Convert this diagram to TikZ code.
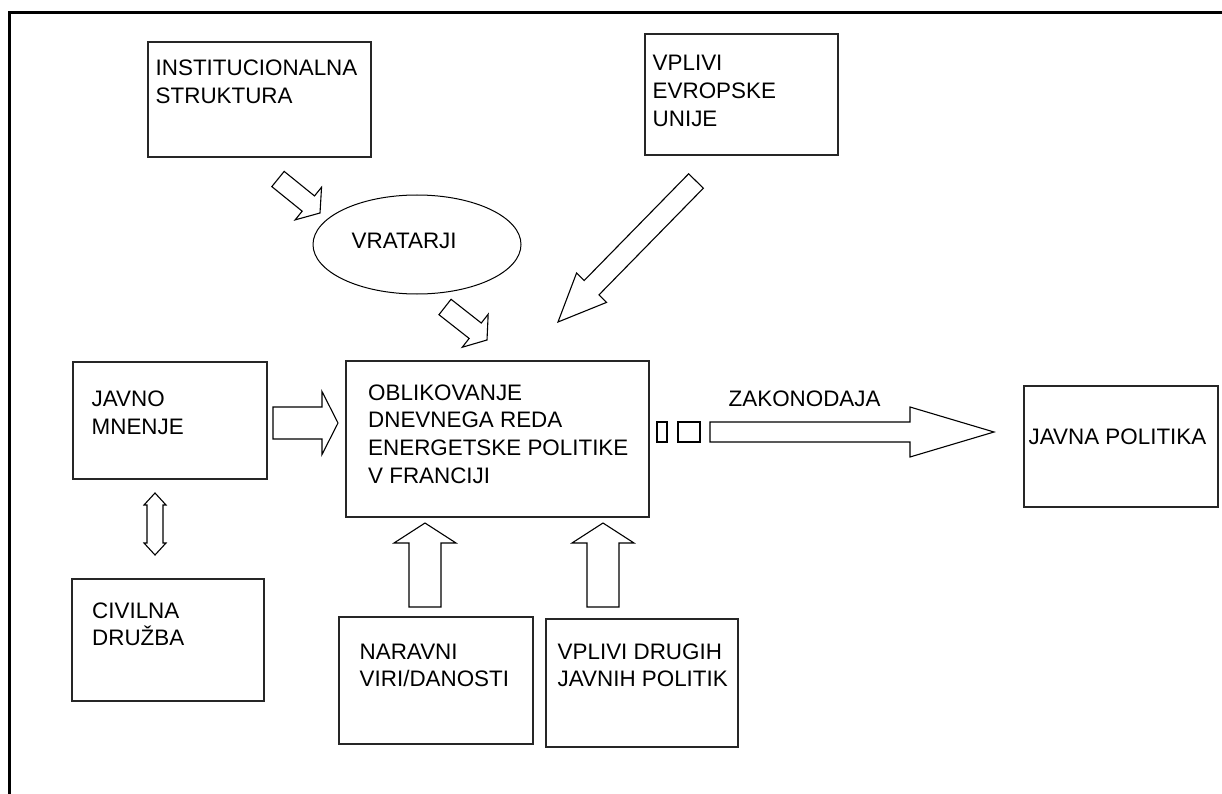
\documentclass[tikz,border=0pt]{standalone}
\usepackage{fontspec}
\setmainfont{Liberation Sans}
\usetikzlibrary{calc,shapes.geometric}
\tikzset{
  box/.style={draw=black!85, line width=1.4pt, rectangle, inner sep=0pt},
  txt/.style={inner sep=0pt, anchor=base west, font=\fontsize{22.4}{27.8}\selectfont},
  arrowline/.style={draw=black, line width=1.1pt, line join=miter, fill=white},
  frameline/.style={draw=black, line width=2.5pt},
}
% block arrow: tail, tip, shaft half width, head half width, head length
\newcommand\blockarr[5]{%
  \path ($(#2)!#5!(#1)$) coordinate (bh);
  \draw[arrowline] ($(#1)!#3!90:(#2)$) -- ($(bh)!#3!90:(#2)$) -- ($(bh)!#4!90:(#2)$) -- (#2)
    -- ($(bh)!#4!-90:(#2)$) -- ($(bh)!#3!-90:(#2)$) -- ($(#1)!#3!-90:(#2)$) -- cycle;}
% double block arrow: end A, end B, shaft half width, head half width, head length
\newcommand\dblarr[5]{%
  \path ($(#1)!#5!(#2)$) coordinate (ha) ($(#2)!#5!(#1)$) coordinate (hb);
  \draw[arrowline] (#1) -- ($(ha)!#4!90:(#2)$) -- ($(ha)!#3!90:(#2)$) -- ($(hb)!#3!-90:(#1)$)
    -- ($(hb)!#4!-90:(#1)$) -- (#2) -- ($(hb)!#4!90:(#1)$) -- ($(hb)!#3!90:(#1)$)
    -- ($(ha)!#3!-90:(#2)$) -- ($(ha)!#4!-90:(#2)$) -- cycle;}
\begin{document}
\begin{tikzpicture}[x=1pt,y=-1pt]
\useasboundingbox (0,0) rectangle (1222,794);
\fill[white] (0,0) rectangle (1222,794);
\draw[frameline] (9.5,794) -- (9.5,12.7) -- (1222,12.7);

% boxes
\node[box, minimum width=223pt, minimum height=115pt] (inst) at (259.5,99.5) {};
\node[box, minimum width=193pt, minimum height=121pt] (eu) at (741.5,94.5) {};
\node[box, minimum width=303pt, minimum height=156pt] (main) at (497.5,439) {};
\node[box, minimum width=194pt, minimum height=117pt] (javno) at (170,420.5) {};
\node[box, minimum width=192pt, minimum height=122pt] (civil) at (168,640) {};
\node[box, minimum width=194pt, minimum height=127pt] (nar) at (436,680.5) {};
\node[box, minimum width=192pt, minimum height=128pt] (drug) at (642,683) {};
\node[box, minimum width=194pt, minimum height=121pt] (jp) at (1121,446.5) {};
\node[draw=black, line width=1pt, ellipse, inner sep=0pt, minimum width=208pt, minimum height=99pt] (vrat) at (417,244.5) {};
\node[draw=black, line width=1.1pt, inner sep=0pt, minimum width=10pt, minimum height=20pt] (sq1) at (662,432) {};
\node[draw=black, line width=1.1pt, inner sep=0pt, minimum width=22pt, minimum height=20pt] (sq2) at (689,432) {};

% texts
\node[txt] (tinst) at (155.5,76) {\begin{tabular}[t]{@{}l@{}}INSTITUCIONALNA\\STRUKTURA\end{tabular}};
\node[txt] (teu) at (652.5,71) {\begin{tabular}[t]{@{}l@{}}VPLIVI\\EVROPSKE\\UNIJE\end{tabular}};
\node[txt] (tvrat) at (351.5,248.5) {VRATARJI};
\node[txt] (tmain) at (368,400) {\begin{tabular}[t]{@{}l@{}}OBLIKOVANJE\\DNEVNEGA REDA\\ENERGETSKE POLITIKE\\V FRANCIJI\end{tabular}};
\node[txt] (tjavno) at (91.5,406.5) {\begin{tabular}[t]{@{}l@{}}JAVNO\\MNENJE\end{tabular}};
\node[txt] (tcivil) at (92,618) {\begin{tabular}[t]{@{}l@{}}CIVILNA\\DRUŽBA\end{tabular}};
\node[txt] (tnar) at (359.5,659) {\begin{tabular}[t]{@{}l@{}}NARAVNI\\VIRI/DANOSTI\end{tabular}};
\node[txt] (tdrug) at (557.5,659) {\begin{tabular}[t]{@{}l@{}}VPLIVI DRUGIH\\JAVNIH POLITIK\end{tabular}};
\node[txt] (tzak) at (728.5,406.7) {ZAKONODAJA};
\node[txt] (tjp) at (1028.5,444) {JAVNA POLITIKA};

% arrow end points
\coordinate (aT) at (278,179);   \coordinate (aH) at (320,213);
\coordinate (bT) at (445,307);   \coordinate (bH) at (487,340);
\coordinate (cT) at (696,181);   \coordinate (cH) at (558,322);
\coordinate (dT) at (273,423);   \coordinate (dH) at (338,423);
\coordinate (fT) at (425,607);   \coordinate (fH) at (425,523);
\coordinate (gT) at (603,607);   \coordinate (gH) at (603,523);
\coordinate (hT) at (710,432);   \coordinate (hH) at (994,432);
\coordinate (eA) at (155,493);   \coordinate (eB) at (155,555);

\blockarr{aT}{aH}{9.8pt}{21pt}{15pt}
\blockarr{bT}{bH}{9.8pt}{21pt}{15pt}
\blockarr{cT}{cH}{10.3pt}{21pt}{48pt}
\blockarr{dT}{dH}{16pt}{31.5pt}{16pt}
\blockarr{fT}{fH}{16pt}{31pt}{20pt}
\blockarr{gT}{gH}{16pt}{31pt}{20pt}
\blockarr{hT}{hH}{10pt}{25pt}{84pt}
\dblarr{eA}{eB}{8pt}{11pt}{12pt}
\end{tikzpicture}
\end{document}
